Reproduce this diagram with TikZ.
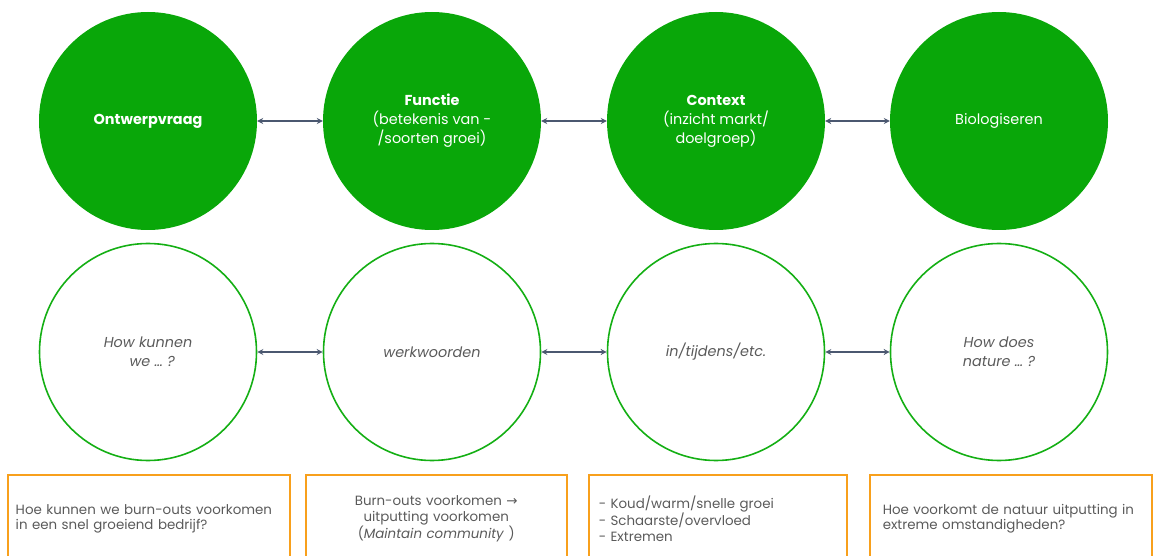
\documentclass[tikz,border=0pt]{standalone}
\usepackage{fontspec}
\setmainfont{Poppins}
\newfontfamily\symfont{DejaVu Sans}
\usetikzlibrary{arrows.meta}
\definecolor{fillgreen}{RGB}{9,167,9}
\definecolor{linegreen}{RGB}{20,175,20}
\definecolor{arrowgray}{RGB}{75,88,112}
\definecolor{textgray}{RGB}{90,90,90}
\definecolor{boxorange}{RGB}{248,160,28}
\begin{document}
\begin{tikzpicture}[x=1pt,y=-1pt,
  solidcirc/.style={circle,fill=fillgreen,minimum size=218pt,inner sep=0pt,
    text=white,font=\fontsize{14.4}{19}\selectfont,align=center},
  opencirc/.style={circle,draw=linegreen,line width=1.6pt,minimum size=217pt,inner sep=0pt,
    text=textgray,font=\fontsize{14.4}{19}\selectfont\itshape,align=center},
  link/.style={{Stealth[length=6pt,width=6pt]}-{Stealth[length=6pt,width=6pt]},draw=arrowgray,line width=1.5pt},
  notebox/.style={draw=boxorange,line width=1.5pt,minimum height=88pt,inner xsep=0pt,
    anchor=north west,text=textgray,font=\fontsize{13.4}{15.5}\selectfont}
]
\useasboundingbox (0,0) rectangle (1160,556);
\clip (0,0) rectangle (1160,556);

% top row: filled circles
\node[solidcirc] (t1) at (148,121) {\textbf{Ontwerpvraag}};
\node[solidcirc] (t2) at (432,121) {\textbf{Functie}\\(betekenis van -\\/soorten groei)};
\node[solidcirc] (t3) at (716,121) {\textbf{Context}\\(inzicht markt/\\doelgroep)};
\node[solidcirc] (t4) at (999,121) {Biologiseren};

% second row: outlined circles
\node[opencirc] (b1) at (148,352) {How kunnen\\\ \ we \dots\ ?};
\node[opencirc] (b2) at (432,352) {werkwoorden};
\node[opencirc] (b3) at (716,352) {in/tijdens/etc.};
\node[opencirc] (b4) at (999,352) {How does\\nature \dots\ ?};

% connectors
\draw[link] (t1.east) -- (t2.west);
\draw[link] (t2.east) -- (t3.west);
\draw[link] (t3.east) -- (t4.west);
\draw[link] (b1.east) -- (b2.west);
\draw[link] (b2.east) -- (b3.west);
\draw[link] (b3.east) -- (b4.west);

% notes below
\node[notebox,minimum width=282pt,text width=282pt,align=left] (n1) at (7,474)
  {\hspace*{8pt}Hoe kunnen we burn-outs voorkomen\\\hspace*{8pt}in een snel groeiend bedrijf?};
\node[notebox,minimum width=261pt,text width=261pt,align=center] (n2) at (305,474)
  {Burn-outs voorkomen {\symfont →}\\uitputting voorkomen\\(\textit{Maintain community} )};
\node[notebox,minimum width=258pt,text width=258pt,align=left] (n3) at (588,474)
  {\hspace*{10pt}- Koud/warm/snelle groei\\\hspace*{10pt}- Schaarste/overvloed\\\hspace*{10pt}- Extremen};
\node[notebox,minimum width=282pt,text width=282pt,align=left] (n4) at (869,474)
  {\hspace*{13pt}Hoe voorkomt de natuur uitputting in\\\hspace*{13pt}extreme omstandigheden?};
\end{tikzpicture}
\end{document}
